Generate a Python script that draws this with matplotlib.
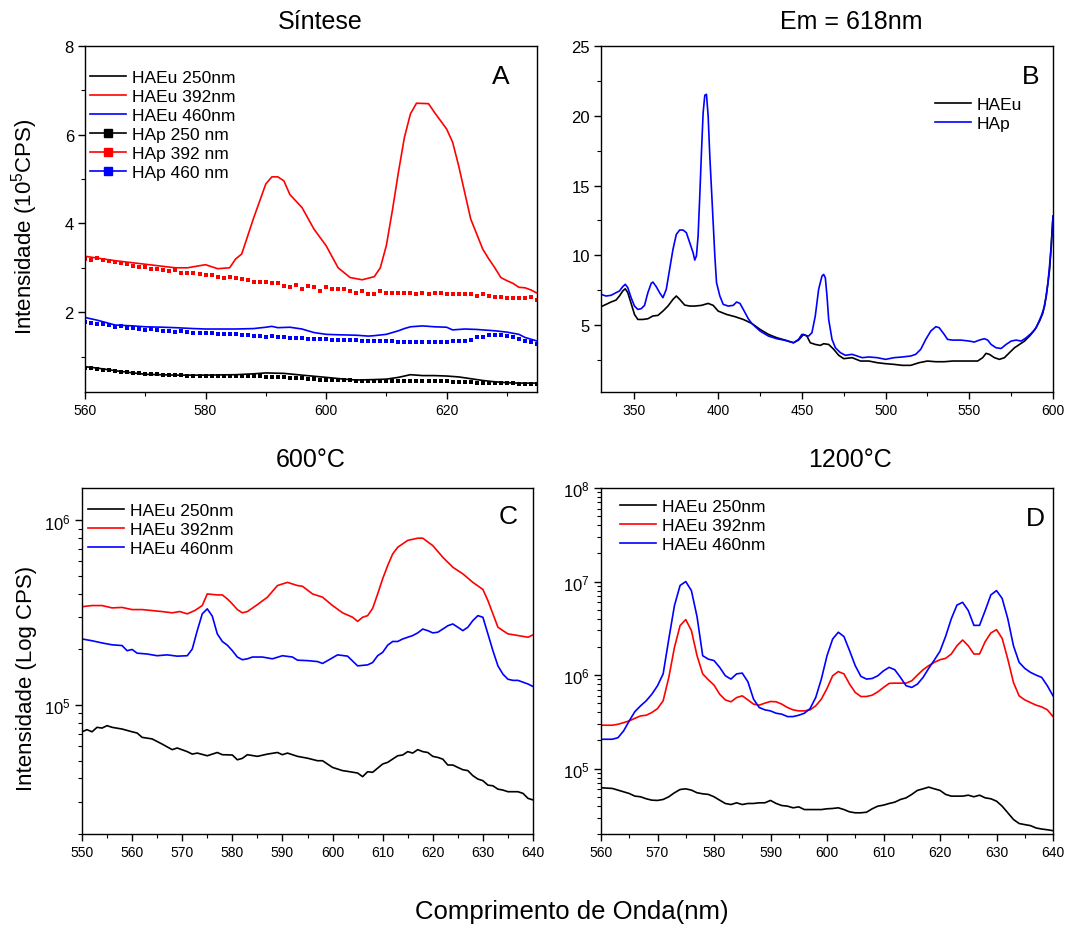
import numpy as np
import matplotlib
matplotlib.use("Agg")
import matplotlib.pyplot as plt
from matplotlib.lines import Line2D
from matplotlib.ticker import MultipleLocator, LogLocator, NullFormatter, FixedLocator

plt.rcParams['font.family'] = ['Liberation Sans', 'DejaVu Sans']
plt.rcParams['mathtext.fontset'] = 'custom'
plt.rcParams['mathtext.rm'] = 'Liberation Sans'
plt.rcParams['mathtext.default'] = 'regular'

# ---------------- Panel A (Síntese) ----------------
a_x = list(range(560, 636))
a_hap250 = [0.75,0.74,0.72,0.70,0.69,0.67,0.66,0.64,0.63,0.62,
            0.61,0.60,0.60,0.59,0.59,0.58,0.58,0.57,0.57,0.57,
            0.56,0.56,0.57,0.57,0.56,0.56,0.56,0.55,0.55,0.55,
            0.54,0.54,0.53,0.53,0.52,0.51,0.51,0.50,0.49,0.48,
            0.47,0.47,0.46,0.46,0.46,0.45,0.45,0.45,0.44,0.45,
            0.44,0.44,0.45,0.45,0.45,0.45,0.44,0.45,0.44,0.44,
            0.44,0.43,0.43,0.42,0.42,0.41,0.41,0.41,0.40,0.40,
            0.40,0.40,0.39,0.39,0.39,0.39]
a_hap392 = [3.20,3.18,3.21,3.18,3.16,3.12,3.10,3.08,3.03,3.01,
            3.01,2.98,2.97,2.95,2.93,2.95,2.89,2.89,2.88,2.86,
            2.83,2.83,2.80,2.78,2.80,2.77,2.74,2.73,2.69,2.69,
            2.67,2.65,2.65,2.59,2.57,2.61,2.53,2.58,2.56,2.48,
            2.56,2.52,2.52,2.53,2.47,2.44,2.48,2.42,2.42,2.47,
            2.44,2.44,2.44,2.44,2.44,2.41,2.43,2.41,2.44,2.44,
            2.42,2.41,2.41,2.41,2.41,2.37,2.41,2.37,2.35,2.35,
            2.33,2.31,2.33,2.33,2.35,2.28]
a_hap460 = [1.77,1.76,1.74,1.73,1.70,1.67,1.68,1.65,1.64,1.62,
            1.60,1.61,1.59,1.58,1.58,1.56,1.57,1.55,1.54,1.54,
            1.52,1.53,1.51,1.50,1.51,1.50,1.49,1.48,1.47,1.46,
            1.45,1.46,1.44,1.43,1.42,1.41,1.41,1.40,1.40,1.39,
            1.39,1.38,1.38,1.37,1.38,1.37,1.36,1.36,1.35,1.35,
            1.34,1.34,1.33,1.33,1.33,1.32,1.33,1.32,1.32,1.33,
            1.33,1.34,1.34,1.35,1.38,1.43,1.45,1.48,1.48,1.49,
            1.47,1.43,1.40,1.35,1.32,1.28]
a_eu392_x = [560,565,570,575,577,580,582,584,585,586,588,590,591,592,593,594,596,598,600,602,
             604,606,608,609,610,611,612,613,614,615,617,618,620,621,622,623,624,625,626,627,
             628,629,630,631,632,633,634,635]
a_eu392 = [3.26,3.16,3.08,3.00,3.00,3.07,2.98,3.00,3.20,3.31,4.13,4.89,5.05,5.05,4.96,4.65,4.36,3.87,3.50,3.00,
           2.78,2.73,2.80,3.00,3.50,4.29,5.15,5.94,6.47,6.71,6.70,6.50,6.13,5.83,5.30,4.70,4.10,3.76,3.42,3.20,
           3.00,2.78,2.71,2.65,2.56,2.55,2.50,2.43]
a_eu460_x = [560,562,565,568,570,573,575,578,580,583,585,588,590,591,592,594,596,598,600,602,
             605,607,608,610,612,613,614,616,618,620,621,623,625,628,630,632,633,635]
a_eu460 = [1.88,1.82,1.71,1.69,1.67,1.66,1.65,1.63,1.62,1.62,1.62,1.63,1.66,1.68,1.65,1.66,1.62,1.54,1.50,1.49,
           1.48,1.46,1.47,1.50,1.58,1.63,1.67,1.69,1.67,1.66,1.60,1.62,1.61,1.58,1.55,1.50,1.43,1.35]
a_eu250_x = [560,562,565,568,570,575,580,585,588,590,593,596,600,603,605,608,610,612,614,616,
             618,620,622,624,626,628,630,632,635]
a_eu250 = [0.77,0.74,0.68,0.63,0.60,0.58,0.58,0.59,0.61,0.63,0.62,0.58,0.53,0.49,0.47,0.48,0.49,0.53,0.59,0.57,
           0.57,0.56,0.54,0.50,0.46,0.43,0.41,0.40,0.40]
a_labels = ['HAEu 250nm', 'HAEu 392nm', 'HAEu 460nm', 'HAp 250 nm', 'HAp 392 nm', 'HAp 460 nm']

# ---------------- Panel B (Em = 618nm) ----------------
b_eu_x = [330,333,336,339,341,343,344.5,346,348,350,352,355,358,361,364,367,370,373,375,377,
          380,383,386,390,394,397,400,405,410,415,420,425,430,435,440,445,448,451,453,455,
          458,461,463,466,469,472,475,480,485,490,495,500,505,510,515,520,525,530,535,540,
          545,550,555,558,560,562,565,568,571,574,577,580,583,586,589,592,594,596,598,600]
b_eu = [6.31,6.48,6.65,6.79,7.08,7.44,7.60,7.32,6.55,5.76,5.40,5.40,5.45,5.65,5.69,6.00,6.36,6.84,7.08,6.84,
        6.43,6.36,6.36,6.41,6.55,6.41,6.00,5.76,5.60,5.40,5.12,4.69,4.33,4.09,3.92,3.73,3.92,4.33,4.21,3.73,
        3.61,3.54,3.66,3.61,3.26,2.83,2.59,2.66,2.42,2.42,2.30,2.23,2.18,2.11,2.11,2.30,2.42,2.37,2.37,2.42,
        2.42,2.42,2.42,2.66,2.97,2.90,2.66,2.54,2.66,3.02,3.37,3.61,3.85,4.21,4.64,5.29,5.88,7.08,9.00,12.8]
b_hap_x = [330,333,336,339,341,343,344.5,346,348,350,352,354,356,358,360,361,363,365,367,369,
           371,373,375,377,379,381,383,385,386,387,388,389,390,391,392,393,394,395,396,397,
           398,399,401,403,406,409,411,413,415,418,420,425,430,435,440,445,448,450,452,454,
           456,458,460,462,463,464,465,466,468,470,473,476,480,483,486,490,495,500,505,510,
           515,518,521,524,527,530,532,535,537,540,545,550,553,556,559,561,563,566,569,572,
           575,578,581,584,587,590,593,595,597,599,600]
b_hap = [7.20,7.08,7.13,7.32,7.44,7.75,7.92,7.68,6.96,6.36,6.12,6.17,6.41,7.32,7.99,8.08,7.75,7.32,6.96,7.56,
         9.00,10.43,11.50,11.81,11.81,11.62,10.90,10.19,9.66,9.95,11.38,14.25,17.36,20.20,21.47,21.54,19.99,17.10,14.73,12.34,
         9.95,8.04,7.08,6.48,6.36,6.41,6.65,6.55,6.12,5.45,5.12,4.57,4.21,4.02,3.90,3.73,3.97,4.33,4.26,4.21,
         4.45,5.65,7.56,8.51,8.63,8.39,7.08,5.40,3.97,3.37,3.02,2.83,2.90,2.78,2.66,2.71,2.66,2.54,2.66,2.71,
         2.78,2.90,3.26,3.97,4.57,4.88,4.81,4.33,3.97,3.92,3.92,3.85,3.78,3.92,4.02,3.92,3.61,3.37,3.32,3.61,
         3.85,3.92,3.85,4.09,4.40,4.81,5.65,6.36,8.04,10.66,12.8]
b_labels = ['HAEu', 'HAp']

# ---------------- Panel C (600°C) ----------------
c_red_x = [550,552,554,556,558,560,562,564,566,568,569.5,571,572.5,574,575,577,578,579,580,581,
           582,583,585,587,589,591,593,594,596,598,600,602,604,605,606,607,608,609,610,611,
           612,613,615,617,618,620,622,624,626,628,630,631,632,633,634,635,637,639,640]
c_red_e5 = [3.41,3.46,3.46,3.36,3.38,3.29,3.29,3.25,3.21,3.16,3.21,3.12,3.25,3.46,4.00,3.95,3.95,3.76,3.53,3.29,
            3.16,3.21,3.50,3.84,4.44,4.62,4.44,4.40,4.00,3.84,3.46,3.16,2.99,2.84,2.99,3.05,3.34,4.00,4.83,5.70,
            6.59,7.16,7.80,8.02,8.02,7.31,6.32,5.58,5.14,4.62,4.23,3.68,3.12,2.64,2.53,2.43,2.38,2.33,2.40]
c_blue_x = [550,552,554,556,558,559,560,561,563,565,567,569,571,572,573,574,575,576,577,578,
            579,580,581,582,583,584,586,588,590,592,593,595,597,598,599,601,603,605,607,608,
            609,610,611,612,613,614,616,617,618,619,620,621,622,623,624,625,626,627,628,629,
            630,631,632,633,634,635,636,637,639,640]
c_blue_e5 = [2.28,2.23,2.17,2.12,2.10,1.97,2.00,1.91,1.89,1.85,1.87,1.84,1.85,2.01,2.53,3.12,3.32,3.03,2.43,2.21,
             2.11,1.97,1.82,1.76,1.78,1.82,1.82,1.78,1.85,1.82,1.75,1.74,1.72,1.68,1.74,1.87,1.84,1.63,1.65,1.70,
             1.85,1.93,2.11,2.21,2.21,2.28,2.38,2.46,2.58,2.53,2.46,2.48,2.58,2.69,2.75,2.64,2.53,2.64,2.87,3.05,
             2.99,2.43,1.97,1.63,1.47,1.38,1.36,1.36,1.30,1.26]
c_black_x = [550,551,552,553,554,555,556,558,560,561,562,564,566,568,569,571,572,573,575,577,
             578,580,581,582,583,585,587,589,590,591,593,595,597,598,600,602,603,605,606,607,
             608,610,611,613,614,615,616,617,618,619,620,621,622,623,624,625,626,627,628,629,
             630,631,632,633,634,635,637,638,639,640]
c_black_e4 = [7.16,7.35,7.16,7.57,7.50,7.73,7.57,7.41,7.16,7.05,6.68,6.55,6.14,5.73,5.85,5.59,5.42,5.49,5.31,5.53,
              5.38,5.36,5.05,5.14,5.38,5.27,5.42,5.53,5.38,5.49,5.27,5.15,4.99,4.99,4.59,4.41,4.37,4.28,4.09,4.35,
              4.32,4.79,4.89,5.31,5.36,5.59,5.49,5.73,5.59,5.53,5.27,5.20,5.09,4.73,4.73,4.59,4.46,4.41,4.14,3.97,
              3.89,3.68,3.65,3.50,3.46,3.39,3.39,3.32,3.12,3.06]
cd_labels = ['HAEu 250nm', 'HAEu 392nm', 'HAEu 460nm']

# ---------------- Panel D (1200°C) ----------------
d_x = [560] + list(range(562, 641))
d_blue_e5 = [2.06,2.06,2.14,2.53,3.24,4.07,4.69,5.31,6.25,7.69,
             10.3,24.3,55.4,90.8,100,80,42,16.1,14.8,14.3,
             12.1,9.84,9.06,10.3,10.5,8.48,5.53,4.5,4.25,4.14,
             3.91,3.82,3.6,3.6,3.72,3.91,4.38,5.75,9.06,16.1,
             24.3,28.7,25.8,18.2,12.6,9.68,9.06,9.2,9.84,11.1,
             12.1,11.4,9.44,7.69,7.38,8.0,9.44,11.8,14.5,18.0,
             26,40,56,60,49,34,34,49,72,80,
             66,40,20.6,13.7,11.8,10.7,10.0,9.44,7.69,6.0]
d_red_e5 = [2.91,2.91,2.98,3.1,3.24,3.45,3.66,3.72,3.98,4.38,
            5.31,9.44,19.8,33.8,39.2,29.9,16.1,10.3,8.91,7.82,
            6.25,5.43,5.18,5.75,6.0,5.43,4.89,4.77,5.01,5.22,
            5.18,4.89,4.5,4.25,4.14,4.14,4.25,4.69,5.53,7.19,
            9.84,10.9,10.3,8.0,6.52,5.9,5.9,6.1,6.62,7.38,
            8.15,8.2,8.2,8.2,8.69,10,11.4,12.6,13.7,14.6,
            15.1,16.8,20.6,23.7,20.6,16.8,16.8,22.8,28.2,30.6,
            24.7,14.8,8.34,6.0,5.43,5.09,4.77,4.57,4.25,3.6]
d_black_e4 = [6.24,6.14,5.89,5.65,5.42,5.08,5.0,4.76,4.6,4.57,
              4.68,5.0,5.52,5.98,6.08,5.89,5.52,5.38,5.3,5.0,
              4.6,4.24,4.13,4.31,4.13,4.24,4.24,4.31,4.31,4.57,
              4.24,4.03,3.97,3.81,3.9,3.65,3.65,3.65,3.65,3.72,
              3.75,3.81,3.65,3.45,3.37,3.37,3.42,3.72,3.97,4.07,
              4.24,4.38,4.68,4.87,5.3,5.85,6.08,6.34,6.08,5.85,
              5.3,5.08,5.08,5.08,5.2,5.0,5.2,4.87,4.76,4.49,
              3.97,3.37,2.86,2.59,2.52,2.46,2.32,2.26,2.22,2.17]

# ---------------- Figure ----------------
W, H = 1067, 929
fig = plt.figure(figsize=(W / 100, H / 100), dpi=100)

def px_axes(l, t, r, b):
    return fig.add_axes([l / W, 1 - b / H, (r - l) / W, (b - t) / H])

axA = px_axes(85, 47, 537, 393)
axB = px_axes(601, 47, 1053, 393)
axC = px_axes(82, 489, 533, 835)
axD = px_axes(601, 489, 1053, 835)

LW = 1.2
BLK, RED, BLU = '#000000', '#ff0000', '#0000ff'

def style(ax):
    for s in ax.spines.values():
        s.set_linewidth(1.0)
    ax.tick_params(which='major', direction='out', length=5, width=1.0, pad=3)
    ax.tick_params(axis='x', which='major', labelsize=10)
    ax.tick_params(axis='y', which='major', labelsize=12)
    ax.tick_params(which='minor', direction='out', length=3, width=0.8)

def legend(ax, handles, labels, x, y):
    ax.legend(handles, labels, loc='upper left', bbox_to_anchor=(x / W, 1 - y / H),
              bbox_transform=fig.transFigure, frameon=False, fontsize=12.5,
              borderpad=0, borderaxespad=0, handlelength=2.1, handletextpad=0.3,
              labelspacing=0.22, numpoints=1)

# Panel A
axA.plot(a_eu250_x, a_eu250, color=BLK, lw=LW)
axA.plot(a_eu392_x, a_eu392, color=RED, lw=LW)
axA.plot(a_eu460_x, a_eu460, color=BLU, lw=LW)
axA.plot(a_x, a_hap250, color=BLK, ls='none', marker='s', ms=3.2, mew=0)
axA.plot(a_x, a_hap392, color=RED, ls='none', marker='s', ms=3.2, mew=0)
axA.plot(a_x, a_hap460, color=BLU, ls='none', marker='s', ms=3.2, mew=0)
axA.set_xlim(560, 635)
axA.set_ylim(0.2, 8)
axA.xaxis.set_major_locator(MultipleLocator(20))
axA.xaxis.set_minor_locator(MultipleLocator(10))
axA.yaxis.set_major_locator(FixedLocator([2, 4, 6, 8]))
axA.yaxis.set_minor_locator(FixedLocator([1, 3, 5, 7]))
style(axA)
hA = [Line2D([], [], color=BLK, lw=LW), Line2D([], [], color=RED, lw=LW), Line2D([], [], color=BLU, lw=LW),
      Line2D([], [], color=BLK, lw=LW, marker='s', ms=5.5), Line2D([], [], color=RED, lw=LW, marker='s', ms=5.5),
      Line2D([], [], color=BLU, lw=LW, marker='s', ms=5.5)]
legend(axA, hA, a_labels, 90, 71)
axA.text(0.920, 0.913, 'A', transform=axA.transAxes, fontsize=19, ha='center', va='center')

# Panel B
axB.plot(b_eu_x, b_eu, color=BLK, lw=LW)
axB.plot(b_hap_x, b_hap, color=BLU, lw=LW)
axB.set_xlim(330, 600)
axB.set_ylim(0.2, 25)
axB.xaxis.set_major_locator(MultipleLocator(50))
axB.xaxis.set_minor_locator(MultipleLocator(25))
axB.yaxis.set_major_locator(FixedLocator([5, 10, 15, 20, 25]))
axB.yaxis.set_minor_locator(FixedLocator([2.5, 7.5, 12.5, 17.5, 22.5]))
style(axB)
hB = [Line2D([], [], color=BLK, lw=LW), Line2D([], [], color=BLU, lw=LW)]
legend(axB, hB, b_labels, 935, 98)
axB.text(0.951, 0.913, 'B', transform=axB.transAxes, fontsize=19, ha='center', va='center')

# Panel C
axC.plot(c_black_x, np.array(c_black_e4) * 1e4, color=BLK, lw=LW)
axC.plot(c_red_x, np.array(c_red_e5) * 1e5, color=RED, lw=LW)
axC.plot(c_blue_x, np.array(c_blue_e5) * 1e5, color=BLU, lw=LW)
axC.set_yscale('log')
axC.set_xlim(550, 640)
axC.set_ylim(2.0e4, 1.5e6)
axC.xaxis.set_major_locator(MultipleLocator(10))
axC.xaxis.set_minor_locator(MultipleLocator(5))
axC.yaxis.set_minor_locator(LogLocator(base=10, subs=np.arange(2, 10)))
axC.yaxis.set_minor_formatter(NullFormatter())
style(axC)
hC = [Line2D([], [], color=c, lw=LW) for c in (BLK, RED, BLU)]
legend(axC, hC, cd_labels, 88, 504)
axC.text(0.945, 0.919, 'C', transform=axC.transAxes, fontsize=19, ha='center', va='center')

# Panel D
axD.plot(d_x, np.array(d_black_e4) * 1e4, color=BLK, lw=LW)
axD.plot(d_x, np.array(d_red_e5) * 1e5, color=RED, lw=LW)
axD.plot(d_x, np.array(d_blue_e5) * 1e5, color=BLU, lw=LW)
axD.set_yscale('log')
axD.set_xlim(560, 640)
axD.set_ylim(2.0e4, 1e8)
axD.xaxis.set_major_locator(MultipleLocator(10))
axD.xaxis.set_minor_locator(MultipleLocator(5))
axD.yaxis.set_minor_locator(LogLocator(base=10, subs=np.arange(2, 10)))
axD.yaxis.set_minor_formatter(NullFormatter())
style(axD)
hD = [Line2D([], [], color=c, lw=LW) for c in (BLK, RED, BLU)]
legend(axD, hD, cd_labels, 620, 500)
axD.text(0.960, 0.913, 'D', transform=axD.transAxes, fontsize=19, ha='center', va='center')

# Titles and labels
fig.text(320 / W, 1 - 22 / H, 'Síntese', fontsize=18, ha='center', va='center')
fig.text(851 / W, 1 - 22 / H, 'Em = 618nm', fontsize=18, ha='center', va='center')
fig.text(311 / W, 1 - 460 / H, '600°C', fontsize=18, ha='center', va='center')
fig.text(850 / W, 1 - 460 / H, '1200°C', fontsize=18, ha='center', va='center')
fig.text(25 / W, 1 - 227 / H, 'Intensidade (10$^{5}$CPS)', fontsize=16, rotation=90, ha='center', va='center')
fig.text(27 / W, 1 - 678 / H, 'Intensidade (Log CPS)', fontsize=16, rotation=90, ha='center', va='center')
fig.text(572 / W, 1 - 912 / H, 'Comprimento de Onda(nm)', fontsize=18.5, ha='center', va='center')

fig.savefig('out.png', dpi=100)
